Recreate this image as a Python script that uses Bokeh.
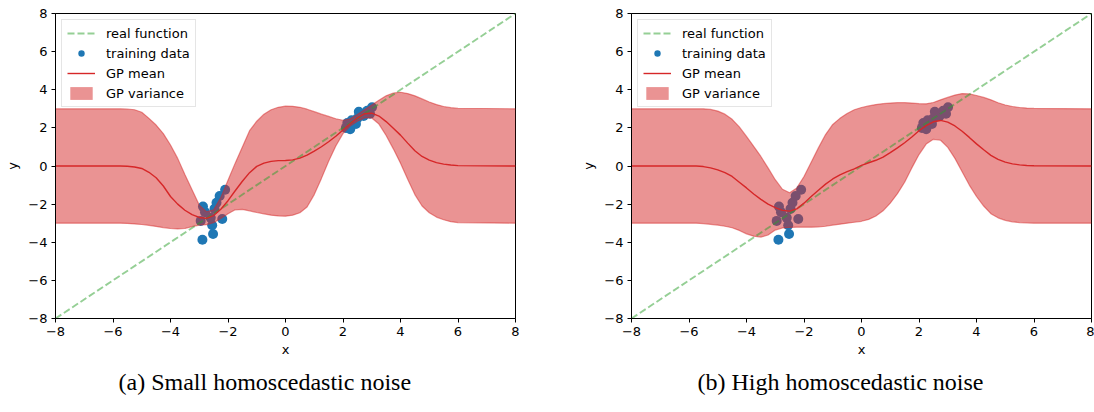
from bokeh.plotting import figure
from bokeh.layouts import row
from bokeh.models import Legend, LegendItem, Title, CustomJSTickFormatter, FixedTicker, Range1d
from bokeh.embed import file_html
from bokeh.resources import INLINE

ticks = [-8, -6, -4, -2, 0, 2, 4, 6, 8]

real_x = [-8, 8]
real_y = [-8, 8]

train_x = [-2.10, -2.29, -2.40, -2.87, -2.80, -2.95, -2.20, -2.60, -2.55, -2.52, -2.89, -2.47,
           2.10, 2.15, 2.25, 2.30, 2.45, 2.50, 2.55, 2.72, 2.84, 2.94, 3.01]
train_y = [-1.25, -1.57, -1.93, -2.13, -2.42, -2.88, -2.78, -2.72, -3.11, -3.57, -3.87, -2.25,
           2.00, 2.25, 1.93, 2.40, 2.20, 2.50, 2.85, 2.62, 2.90, 2.74, 3.08]

grid_x = [-8, -6, -5.75, -5.5, -5.25, -5, -4.75, -4.5, -4.25, -4, -3.75, -3.5, -3.25, -3, -2.75, -2.5,
          -2.25, -2, -1.75, -1.5, -1.25, -1, -0.75, -0.5, -0.25, 0, 0.25, 0.5, 0.75, 1, 1.25, 1.5,
          1.75, 2, 2.25, 2.5, 2.75, 3, 3.25, 3.5, 3.75, 4, 4.25, 4.5, 4.75, 5, 5.25, 5.5, 5.75, 6, 8]

# (a) small homoscedastic noise
mean_a = [0, 0, 0, -0.01, -0.05, -0.13, -0.33, -0.62, -1.05, -1.6, -2.0, -2.32, -2.55, -2.7, -2.75, -2.6,
          -2.27, -1.82, -1.3, -0.8, -0.35, -0.02, 0.15, 0.24, 0.28, 0.29, 0.32, 0.41, 0.57, 0.78, 1.01, 1.27,
          1.56, 1.89, 2.22, 2.52, 2.74, 2.77, 2.62, 2.33, 1.98, 1.62, 1.2, 0.8, 0.5, 0.31, 0.18, 0.1, 0.05, 0.02, 0]
upper_a = [3.0, 3.0, 3.0, 2.99, 2.95, 2.82, 2.5, 2.15, 1.7, 1.1, 0.4, -0.45, -1.25, -2.05, -2.4, -2.3,
           -1.65, -0.75, 0.15, 1.0, 1.85, 2.35, 2.72, 2.95, 3.08, 3.14, 3.13, 3.08, 2.98, 2.85, 2.72, 2.6,
           2.48, 2.4, 2.48, 2.7, 2.95, 3.2, 3.45, 3.68, 3.83, 3.87, 3.8, 3.68, 3.52, 3.36, 3.22, 3.12, 3.06, 3.03, 3.0]
lower_a = [-3.0, -3.0, -3.0, -3.01, -3.04, -3.07, -3.11, -3.17, -3.23, -3.28, -3.3, -3.28, -3.18, -3.1, -3.08, -2.97,
           -2.75, -2.5, -2.3, -2.28, -2.35, -2.44, -2.51, -2.58, -2.62, -2.63, -2.58, -2.45, -2.15, -1.5, -0.65, 0.25,
           1.05, 1.7, 2.1, 2.35, 2.52, 2.52, 2.2, 1.6, 0.9, 0.15, -0.7, -1.5, -2.1, -2.45, -2.68, -2.82, -2.92, -2.97, -3.0]

# (b) high homoscedastic noise
mean_b = [0, 0, 0, -0.03, -0.1, -0.2, -0.35, -0.55, -0.85, -1.15, -1.47, -1.75, -2.0, -2.18, -2.33, -2.37,
          -2.25, -1.95, -1.6, -1.27, -0.95, -0.68, -0.47, -0.3, -0.15, 0.03, 0.17, 0.3, 0.47, 0.7, 0.95, 1.22,
          1.52, 1.85, 2.12, 2.32, 2.39, 2.3, 2.1, 1.82, 1.5, 1.16, 0.85, 0.56, 0.35, 0.2, 0.11, 0.06, 0.03, 0.01, 0]
upper_b = [3.0, 3.0, 3.0, 3.0, 2.97, 2.88, 2.72, 2.45, 2.05, 1.55, 1.03, 0.5, -0.1, -0.72, -1.22, -1.4,
           -1.15, -0.55, 0.2, 0.95, 1.65, 2.18, 2.5, 2.75, 2.95, 3.07, 3.15, 3.22, 3.27, 3.3, 3.32, 3.32,
           3.3, 3.27, 3.26, 3.33, 3.47, 3.6, 3.72, 3.8, 3.78, 3.7, 3.6, 3.47, 3.32, 3.2, 3.12, 3.07, 3.04, 3.02, 3.0]
lower_b = [-3.0, -3.0, -3.0, -3.02, -3.06, -3.1, -3.16, -3.24, -3.38, -3.56, -3.68, -3.73, -3.62, -3.36, -3.25, -3.22,
           -3.21, -3.21, -3.21, -3.2, -3.16, -3.1, -3.05, -3.0, -2.95, -2.9, -2.8, -2.62, -2.35, -1.95, -1.45, -0.85,
           -0.1, 0.6, 1.15, 1.4, 1.35, 0.98, 0.4, -0.3, -1.0, -1.6, -2.1, -2.5, -2.72, -2.85, -2.93, -2.97, -2.99, -3.0, -3.0]

captions = ["(a) Small homoscedastic noise", "(b) High homoscedastic noise"]

RED = "#d62728"
BLUE = "#1f77b4"
GREEN = "#2ca02c"
FONT = "DejaVu Sans"

fmt = CustomJSTickFormatter(code="return String(tick).replace('-', '\u2212');")


def make_panel(mean, upper, lower, caption, border_left, border_right, cap_offset):
    p = figure(width=547, height=412, output_backend="svg", toolbar_location=None,
               x_range=Range1d(-8, 8), y_range=Range1d(-8, 8),
               min_border_left=border_left, min_border_right=border_right,
               min_border_top=13, min_border_bottom=94)
    p.grid.visible = False
    p.outline_line_color = "black"
    p.outline_line_width = 1
    p.background_fill_color = "white"
    p.border_fill_color = "white"

    for ax, lab, stand in ((p.xaxis[0], "x", 3), (p.yaxis[0], "y", 5)):
        ax.ticker = FixedTicker(ticks=ticks)
        ax.formatter = fmt
        ax.axis_label = lab
        ax.axis_label_text_font = FONT
        ax.axis_label_text_font_size = "13px"
        ax.axis_label_text_font_style = "normal"
        ax.axis_label_text_color = "black"
        ax.axis_label_standoff = stand
        ax.major_label_text_font = FONT
        ax.major_label_text_font_size = "13px"
        ax.major_label_text_color = "black"
        ax.major_label_standoff = 4
        ax.major_tick_in = 0
        ax.major_tick_out = 4
        ax.major_tick_line_color = "black"
        ax.minor_tick_line_color = None
        ax.axis_line_color = "black"

    r_pts = p.scatter(train_x, train_y, size=10, fill_color=BLUE, line_color=BLUE, line_width=0)
    r_var = p.varea(x=grid_x, y1=lower, y2=upper, fill_color=RED, fill_alpha=0.5)
    p.line(grid_x, upper, line_color=RED, line_alpha=0.5, line_width=1.2)
    p.line(grid_x, lower, line_color=RED, line_alpha=0.5, line_width=1.2)
    r_real = p.line(real_x, real_y, line_color=GREEN, line_alpha=0.5, line_width=1.9, line_dash="7 3")
    r_mean = p.line(grid_x, mean, line_color=RED, line_width=1.4)

    legend = Legend(items=[LegendItem(label="real function", renderers=[r_real]),
                           LegendItem(label="training data", renderers=[r_pts]),
                           LegendItem(label="GP mean", renderers=[r_mean]),
                           LegendItem(label="GP variance", renderers=[r_var])],
                    location="top_left")
    legend.margin = 6
    legend.padding = 5
    legend.spacing = 4
    legend.glyph_width = 28
    legend.glyph_height = 16
    legend.label_height = 16
    legend.label_standoff = 11
    legend.label_text_font = FONT
    legend.label_text_font_size = "13px"
    legend.label_text_color = "black"
    legend.border_line_color = "#cccccc"
    legend.border_line_width = 1
    legend.background_fill_alpha = 0.8
    p.add_layout(legend)

    t = Title(text=caption, align="left", offset=cap_offset, text_font="Liberation Serif",
              text_font_size="24px", text_font_style="normal", text_color="black", standoff=15)
    p.add_layout(t, "below")
    return p


pa = make_panel(mean_a, upper_a, lower_a, captions[0], 55, 32, 63)
pb = make_panel(mean_b, upper_b, lower_b, captions[1], 84, 3, 66)

layout = row(pa, pb)
open("out.html", "w").write(file_html(layout, INLINE))
